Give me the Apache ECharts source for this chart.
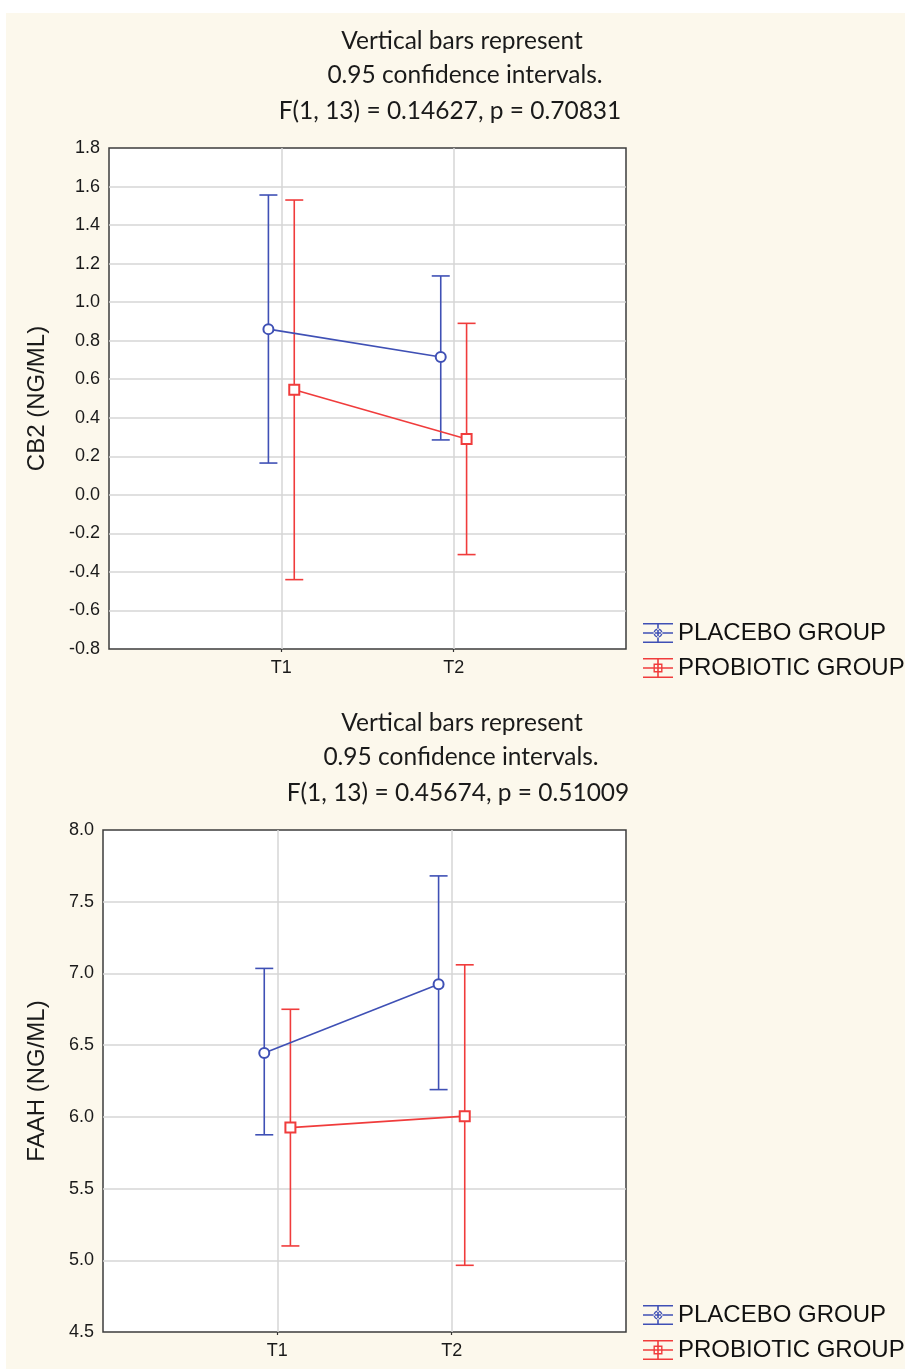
<!DOCTYPE html>
<html>
<head>
<meta charset="utf-8">
<script src="https://cdn.jsdelivr.net/npm/echarts@6/dist/echarts.min.js"></script>
<style>
  html, body { margin: 0; padding: 0; background: #ffffff; }
  #wrap { position: relative; width: 905px; height: 1369px; overflow: hidden; background: #ffffff; }
  #paper { position: absolute; left: 6px; top: 13px; right: 0; bottom: 0; background: #fcf8ec; }
  #chart { position: absolute; left: 0; top: 0; width: 905px; height: 1369px; }
</style>
</head>
<body>
<div id="wrap"><div id="paper"></div><div id="chart"></div></div>
<script>
// ---------------- data ----------------
const categories = ['T1', 'T2'];
const seriesNames = ['PLACEBO GROUP', 'PROBIOTIC GROUP'];

// Panel 1: CB2 (NG/ML)
const cb2Title = ['Vertical bars represent', '0.95 confidence intervals.', 'F(1, 13) = 0.14627, p = 0.70831'];
const cb2AxisName = 'CB2 (NG/ML)';
const cb2Ticks = [-0.8, -0.6, -0.4, -0.2, 0.0, 0.2, 0.4, 0.6, 0.8, 1.0, 1.2, 1.4, 1.6, 1.8];
const cb2PlaceboMean = [0.86, 0.715];
const cb2PlaceboLow  = [0.165, 0.285];
const cb2PlaceboHigh = [1.556, 1.136];
const cb2ProbioticMean = [0.545, 0.29];
const cb2ProbioticLow  = [-0.44, -0.31];
const cb2ProbioticHigh = [1.53, 0.89];

// Panel 2: FAAH (NG/ML)
const faahTitle = ['Vertical bars represent', '0.95 confidence intervals.', 'F(1, 13) = 0.45674, p = 0.51009'];
const faahAxisName = 'FAAH (NG/ML)';
const faahTicks = [4.5, 5.0, 5.5, 6.0, 6.5, 7.0, 7.5, 8.0];
const faahPlaceboMean = [6.445, 6.925];
const faahPlaceboLow  = [5.875, 6.19];
const faahPlaceboHigh = [7.035, 7.68];
const faahProbioticMean = [5.925, 6.005];
const faahProbioticLow  = [5.1, 4.965];
const faahProbioticHigh = [6.75, 7.06];

// ---------------- style ----------------
const BLUE = '#3f50b5';
const RED = '#f03c3c';
const DODGE = 0.075;       // horizontal offset of the groups (x units)
const CAP = 9;             // half width of error-bar caps (px)
const TITLE_FONT = 'Lato, "Liberation Sans Narrow", "Open Sans", sans-serif';
const AXIS_FONT = '"Liberation Sans", Arial, sans-serif';

const ICON_CIRCLE = 'path://M0 0H30V1.6H0Z M0 18.4H30V20H0Z M0 9.2H30V10.8H0Z M14.2 0H15.8V20H14.2Z ' +
  'M10.5 10A4.5 4.5 0 1 0 19.5 10A4.5 4.5 0 1 0 10.5 10Z M11.9 10A3.1 3.1 0 1 1 18.1 10A3.1 3.1 0 1 1 11.9 10Z';
const ICON_SQUARE = 'path://M0 0H30V1.6H0Z M0 18.4H30V20H0Z M0 9.2H30V10.8H0Z M14.2 0H15.8V20H14.2Z ' +
  'M10.5 5.5H19.5V14.5H10.5Z M11.9 6.9V13.1H18.1V6.9Z';

function xs(dodge) { return categories.map((c, i) => i + 1 + dodge); }

function errSeries(name, gridIdx, dodge, low, high, color) {
  const x = xs(dodge);
  return {
    type: 'custom', name: name, xAxisIndex: gridIdx, yAxisIndex: gridIdx, z: 2,
    data: x.map((xv, i) => [xv, low[i], high[i]]),
    renderItem: function (params, api) {
      const pLo = api.coord([api.value(0), api.value(1)]);
      const pHi = api.coord([api.value(0), api.value(2)]);
      const cx = pLo[0];
      const st = { stroke: color, lineWidth: 1.6 };
      return {
        type: 'group',
        children: [
          { type: 'line', shape: { x1: cx, y1: pHi[1], x2: cx, y2: pLo[1] }, style: st },
          { type: 'line', shape: { x1: cx - CAP, y1: pHi[1], x2: cx + CAP, y2: pHi[1] }, style: st },
          { type: 'line', shape: { x1: cx - CAP, y1: pLo[1], x2: cx + CAP, y2: pLo[1] }, style: st }
        ]
      };
    }
  };
}

function meanSeries(name, gridIdx, dodge, mean, color, symbol) {
  const x = xs(dodge);
  return {
    type: 'line', name: name, xAxisIndex: gridIdx, yAxisIndex: gridIdx, z: 3,
    data: x.map((xv, i) => [xv, mean[i]]),
    symbol: symbol, symbolSize: 10,
    itemStyle: { color: color, borderWidth: 1.5 },
    lineStyle: { color: color, width: 1.6 },
    emphasis: { disabled: true }
  };
}

function xAxisCfg(gridIdx) {
  return {
    type: 'value', gridIndex: gridIdx, min: 0, max: 3, interval: 1,
    axisLine: { show: false, onZero: false },
    axisTick: { show: true, length: 3, customValues: [1, 2], lineStyle: { color: '#333', width: 1.2 } },
    axisLabel: {
      customValues: [1, 2], margin: 10,
      formatter: v => categories[Math.round(v) - 1] || '',
      fontFamily: AXIS_FONT, fontSize: 18, color: '#1a1a1a'
    },
    splitLine: { show: true, lineStyle: { color: '#d6d6d6', width: 1.5 } }
  };
}

function yAxisCfg(gridIdx, ticks, name, gap) {
  return {
    type: 'value', gridIndex: gridIdx,
    min: ticks[0], max: ticks[ticks.length - 1],
    interval: Math.round((ticks[1] - ticks[0]) * 1000) / 1000,
    name: name, nameLocation: 'middle', nameGap: gap,
    nameTextStyle: { fontFamily: AXIS_FONT, fontSize: 24, color: '#1a1a1a' },
    axisLine: { show: false, onZero: false },
    axisTick: { show: false },
    axisLabel: {
      margin: 9, fontFamily: AXIS_FONT, fontSize: 18, color: '#1a1a1a',
      formatter: v => (Math.round(v * 10) / 10).toFixed(1)
    },
    splitLine: { show: true, showMinLine: false, showMaxLine: false, lineStyle: { color: '#d6d6d6', width: 1.5 } }
  };
}

function titleLines(lines, centers, tops) {
  return lines.map((t, i) => ({
    text: t, left: centers[i], top: tops[i], textAlign: 'center',
    textStyle: { fontFamily: TITLE_FONT, fontSize: 24.5, fontWeight: 'normal', color: '#1a1a1a' }
  }));
}

function legendCfg(top) {
  return {
    orient: 'vertical', left: 643, top: top, padding: 0, itemGap: 11,
    itemWidth: 30, itemHeight: 20, selectedMode: false,
    textStyle: { fontFamily: AXIS_FONT, fontSize: 24, color: '#111' },
    data: [
      { name: seriesNames[0], icon: ICON_CIRCLE, itemStyle: { color: BLUE, borderWidth: 0 } },
      { name: seriesNames[1], icon: ICON_SQUARE, itemStyle: { color: RED, borderWidth: 0 } }
    ]
  };
}

const chart = echarts.init(document.getElementById('chart'), null, { renderer: 'canvas' });
chart.setOption({
  backgroundColor: 'transparent',
  animation: false,
  title: [].concat(
    titleLines(cb2Title, [457, 460, 445], [24, 58, 94]),
    titleLines(faahTitle, [457, 456, 453], [706, 740, 776])
  ),
  legend: [legendCfg(621), legendCfg(1303)],
  grid: [
    { left: 109, top: 148, width: 517, height: 501, show: true, backgroundColor: '#ffffff', borderColor: '#3c3c3c', borderWidth: 1.5 },
    { left: 103, top: 830, width: 523, height: 502, show: true, backgroundColor: '#ffffff', borderColor: '#3c3c3c', borderWidth: 1.5 }
  ],
  xAxis: [xAxisCfg(0), xAxisCfg(1)],
  yAxis: [yAxisCfg(0, cb2Ticks, cb2AxisName, 60), yAxisCfg(1, faahTicks, faahAxisName, 54)],
  series: [
    errSeries(seriesNames[0], 0, -DODGE, cb2PlaceboLow, cb2PlaceboHigh, BLUE),
    errSeries(seriesNames[1], 0, DODGE, cb2ProbioticLow, cb2ProbioticHigh, RED),
    meanSeries(seriesNames[0], 0, -DODGE, cb2PlaceboMean, BLUE, 'emptyCircle'),
    meanSeries(seriesNames[1], 0, DODGE, cb2ProbioticMean, RED, 'emptyRect'),
    errSeries(seriesNames[0], 1, -DODGE, faahPlaceboLow, faahPlaceboHigh, BLUE),
    errSeries(seriesNames[1], 1, DODGE, faahProbioticLow, faahProbioticHigh, RED),
    meanSeries(seriesNames[0], 1, -DODGE, faahPlaceboMean, BLUE, 'emptyCircle'),
    meanSeries(seriesNames[1], 1, DODGE, faahProbioticMean, RED, 'emptyRect')
  ]
});
</script>
</body>
</html>
